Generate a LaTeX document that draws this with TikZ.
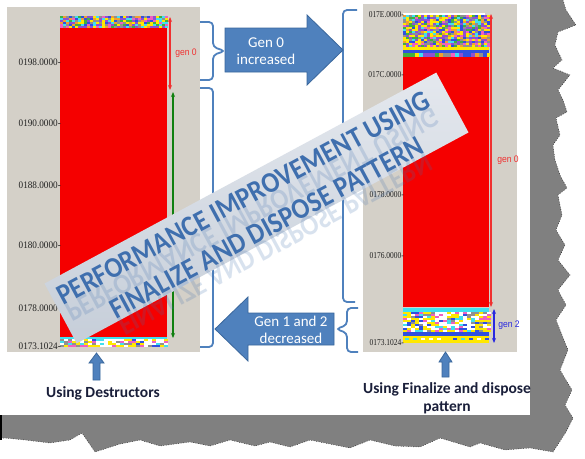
\documentclass[tikz,border=0pt]{standalone}
\usepackage{fontspec}
\setmainfont{Carlito}
\newfontfamily\tickfont{Liberation Serif}
\newfontfamily\genfont{Liberation Sans}
\usetikzlibrary{arrows.meta}
\definecolor{panelgray}{HTML}{D4D0C8}
\definecolor{barred}{HTML}{F50000}
\definecolor{shadowgray}{HTML}{808080}
\definecolor{arrowblue}{HTML}{4F81BD}
\definecolor{arrowedge}{HTML}{3A679C}
\definecolor{bannertop}{HTML}{E4E8EE}
\definecolor{bannerbot}{HTML}{C6CED9}
\definecolor{bannertext}{HTML}{3F6FAE}
\definecolor{labeltext}{HTML}{1A1F3A}
\definecolor{tickcol}{HTML}{202020}
\definecolor{gen0red}{HTML}{F03030}
\definecolor{gen2blue}{HTML}{2828E0}
\definecolor{gengreen}{HTML}{108010}
\definecolor{nzY}{HTML}{FFE800}
\definecolor{nzV}{HTML}{9050D0}
\definecolor{nzG}{HTML}{40B040}
\definecolor{nzO}{HTML}{F0A030}
\definecolor{nzC}{HTML}{40E0F0}
\definecolor{nzP}{HTML}{F060C0}
\definecolor{nzGr}{HTML}{909090}
\definecolor{nzB}{HTML}{3050E0}
\definecolor{nzW}{HTML}{FFFFFF}
\begin{document}
\begin{tikzpicture}[x=1pt,y=-1pt,
  tickL/.style={font=\tickfont\fontsize{10}{11}\selectfont, text=tickcol, anchor=east, inner sep=0pt, xscale=0.92},
  tickR/.style={font=\tickfont\fontsize{9}{10}\selectfont, text=tickcol, anchor=east, inner sep=0pt, xscale=0.83},
  genlab/.style={font=\genfont\fontsize{9.5}{10}\selectfont, inner sep=0pt, xscale=0.9},
  bracecol/.style={draw=arrowblue, line width=1.8pt, rounded corners=4pt},
  blockarrow/.style={fill=arrowblue, draw=arrowedge, line width=0.8pt},
  arrowtext/.style={font=\fontsize{15}{17}\selectfont, text=white, align=center, inner sep=0pt},
  bottomlabel/.style={font=\bfseries\fontsize{15.5}{18}\selectfont, text=labeltext, align=center, inner sep=0pt},
  measure/.style={line width=1.4pt, {Stealth[length=5pt,width=4pt]}-{Stealth[length=5pt,width=4pt]}},
  bannertxt/.style={font=\bfseries\fontsize{29}{30}\selectfont, text=bannertext, inner sep=0pt, transform shape, text depth=0pt, xscale=0.9},
]
\useasboundingbox (0,0) rectangle (585,458);
\fill[white] (0,0) rectangle (585,458);
% torn shadow
\fill[shadowgray] (530,0) -- (563,0) -- (566,10) -- (576,25) -- (558,32) -- (555,45) -- (562,60) -- (553,68) -- (570,75) -- (558,90) -- (563,100) -- (567,112) -- (556,118) -- (560,135) -- (553,145) -- (555,160) -- (560,175) -- (567,188) -- (558,195) -- (562,215) -- (556,230) -- (565,245) -- (558,260) -- (570,275) -- (558,290) -- (566,305) -- (556,320) -- (562,335) -- (568,350) -- (560,370) -- (572,390) -- (565,405) -- (573,418) -- (566,432) -- (553,452) -- (530,448) -- (505,450) -- (480,443) -- (470,447) -- (440,438) -- (420,447) -- (395,446) -- (370,440) -- (350,448) -- (335,445) -- (310,440) -- (290,447) -- (270,442) -- (255,446) -- (230,440) -- (210,446) -- (190,442) -- (160,446) -- (140,440) -- (120,444) -- (95,452) -- (82,433) -- (70,440) -- (50,443) -- (25,440) -- (5,438) -- (0,438) -- (0,415) -- (530,415) -- cycle;
\draw[black, dotted, line width=0.5pt] (563,0) -- (566,10) -- (576,25) -- (558,32) -- (555,45) -- (562,60) -- (553,68) -- (570,75) -- (558,90) -- (563,100) -- (567,112) -- (556,118) -- (560,135) -- (553,145) -- (555,160) -- (560,175) -- (567,188) -- (558,195) -- (562,215) -- (556,230) -- (565,245) -- (558,260) -- (570,275) -- (558,290) -- (566,305) -- (556,320) -- (562,335) -- (568,350) -- (560,370) -- (572,390) -- (565,405) -- (573,418) -- (566,432) -- (553,452) -- (530,448) -- (505,450) -- (480,443) -- (470,447) -- (440,438) -- (420,447) -- (395,446) -- (370,440) -- (350,448) -- (335,445) -- (310,440) -- (290,447) -- (270,442) -- (255,446) -- (230,440) -- (210,446) -- (190,442) -- (160,446) -- (140,440) -- (120,444) -- (95,452) -- (82,433) -- (70,440) -- (50,443) -- (25,440) -- (5,438) -- (0,438);
\draw[black, line width=1.5pt] (0.75,415) -- (0.75,440);

\pgfmathsetseed{42}
\pgfmathdeclarerandomlist{nz}{{nzY}{nzV}{nzG}{nzO}{nzC}{nzP}{nzGr}{nzB}{nzV}{nzY}}
\pgfmathdeclarerandomlist{nzb}{{nzW}{nzW}{nzY}{nzY}{nzW}{nzP}{nzB}{nzC}{nzY}{nzGr}}

% ---------- left panel ----------
\fill[panelgray] (7,7) rectangle (200,352);
\fill[barred] (60,27) rectangle (167,337);
\foreach \i in {0,...,35} \foreach \j in {0,...,5} {\pgfmathrandomitem{\c}{nz}\fill[\c] ({60+3*\i},{16+2*\j}) rectangle ++(3,2);}
\fill[nzC] (60,337) rectangle (167,339);
\foreach \i in {0,...,26} \foreach \j in {0,...,3} {\pgfmathrandomitem{\c}{nzb}\fill[\c] ({60+4*\i},{339+2*\j}) rectangle ++(4,2);}

\node[tickL] (l1) at (61,62) {0198.0000-};
\node[tickL] (l2) at (61,123) {0190.0000-};
\node[tickL] (l3) at (61,185) {0188.0000-};
\node[tickL] (l4) at (61,245) {0180.0000-};
\node[tickL] (l5) at (61,308) {0178.0000-};
\node[tickL] (l6) at (61,346) {0173.1024-};

\coordinate (lr1) at (170,17); \coordinate (lr2) at (170,90);
\draw[measure, gen0red] (lr1) -- (lr2);
\coordinate (lg1) at (173,92); \coordinate (lg2) at (173,338);
\draw[measure, gengreen] (lg1) -- (lg2);
\node[genlab, text=gen0red] (lgen0) at (186,53) {gen 0};

% ---------- right panel ----------
\fill[panelgray] (363,4) rectangle (517,352);
\fill[barred] (403,57) rectangle (489,307);
\fill[nzW] (403,13) rectangle (485,15);
\foreach \i in {0,...,28} \foreach \j in {0,...,15} {\pgfmathrandomitem{\c}{nz}\fill[\c] ({403+3*\i},{15+2*\j}) rectangle ++(3,2);}
\fill[nzY] (403,47) rectangle (489,50);
\fill[nzB] (403,50) rectangle (489,53);
\foreach \i in {0,...,21} {\pgfmathrandomitem{\c}{nz}\fill[\c] ({403+4*\i},53) rectangle ++(4,4);}
\fill[nzC] (403,308) rectangle (489,312);
\foreach \i in {0,...,21} \foreach \j in {0,...,9} {\pgfmathrandomitem{\c}{nzb}\fill[\c] ({403+4*\i},{312+2*\j}) rectangle ++(4,2);}
\fill[nzB] (403,332) rectangle (489,336);
\fill[nzY] (403,336) rectangle (489,343);
\foreach \i in {0,...,10} {\pgfmathrandomitem{\c}{nzb}\fill[\c] ({405+8*\i},338) rectangle ++(4,2);}

\node[tickR] (r1) at (404,15) {017E.0000-};
\node[tickR] (r2) at (404,75) {017C.0000-};
\node[tickR] (r3) at (404,195) {0178.0000-};
\node[tickR] (r4) at (404,256) {0176.0000-};
\node[tickR] (r5) at (404,343) {0173.1024-};

\coordinate (rr1) at (491,14); \coordinate (rr2) at (491,307);
\draw[measure, gen0red] (rr1) -- (rr2);
\coordinate (rb1) at (494,309); \coordinate (rb2) at (494,343);
\draw[measure, gen2blue] (rb1) -- (rb2);
\node[genlab, text=gen0red] (rgen0) at (508,160) {gen 0};
\node[genlab, text=gen2blue] (rgen2) at (509,325) {gen 2};

% ---------- braces ----------
\draw[bracecol] (200,22) -- (213,22) -- (213,47) -- (225,51) -- (213,55) -- (213,80) -- (200,80);
\draw[bracecol] (200,88) -- (213,88) -- (213,214) -- (225,218) -- (213,222) -- (213,347) -- (200,347);
\draw[bracecol] (357,10) -- (343,10) -- (343,152) -- (331,156) -- (343,160) -- (343,302) -- (355,302);
\draw[bracecol] (358,308) -- (347,308) -- (347,325) -- (336,329) -- (347,333) -- (347,352) -- (358,352);

% ---------- block arrows ----------
\draw[blockarrow] (225,28) -- (307,28) -- (307,15) -- (343,50) -- (307,85) -- (307,72) -- (225,72) -- cycle;
\node[arrowtext] (incr) at (266,51) {Gen 0\\increased};
\draw[blockarrow] (215,329) -- (248,297) -- (248,313) -- (334,313) -- (334,345) -- (248,345) -- (248,361) -- cycle;
\node[arrowtext] (decr) at (291,330) {Gen 1 and 2\\decreased};

% small up arrows
\draw[blockarrow] (96.5,353) -- (104,363) -- (100,363) -- (100,380) -- (93,380) -- (93,363) -- (89,363) -- cycle;
\draw[blockarrow] (445.5,352) -- (452,362) -- (449,362) -- (449,377) -- (442,377) -- (442,362) -- (439,362) -- cycle;

\node[bottomlabel] (lab1) at (103,393) {Using Destructors};
\node[bottomlabel] (lab2) at (447,398) {Using Finalize and dispose\\pattern};

% ---------- banner ----------
\node[rotate=28.3, minimum width=445pt, minimum height=68pt, inner sep=0pt, top color=bannertop, bottom color=bannerbot] (banner) at (256.5,208) {};
\begin{scope}[shift={(256.5,208)}, rotate=28.3]
  \node[bannertxt, yscale=-1, opacity=0.2] (refl1) at (-6.7,4) {PERFORMANCE IMPROVEMENT USING};
  \node[bannertxt, yscale=-1, opacity=0.2] (refl2) at (-0.7,41) {FINALIZE AND DISPOSE  PATTERN};
  \node[bannertxt] (title1) at (-6.7,-15) {PERFORMANCE IMPROVEMENT USING};
  \node[bannertxt] (title2) at (-0.7,22) {FINALIZE AND DISPOSE  PATTERN};
\end{scope}
\end{tikzpicture}
\end{document}
